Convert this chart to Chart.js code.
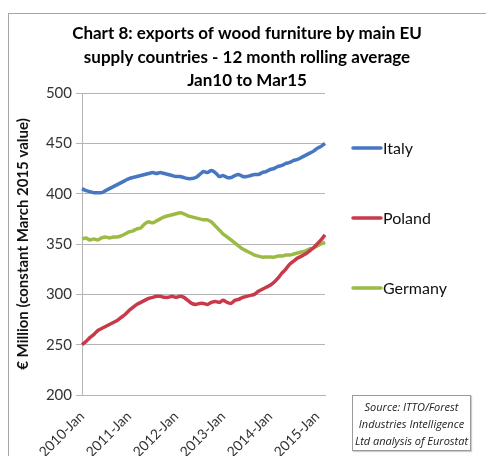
<!DOCTYPE html>
<html>
<head>
<meta charset="utf-8">
<script src="https://cdn.jsdelivr.net/npm/chart.js@4.4.1/dist/chart.umd.min.js"></script>
<style>
    body { margin: 0; background: #fff; }
    #wrap { position: relative; width: 486px; height: 456px; overflow: hidden; }
    #frame { position: absolute; left: 8px; top: 13px; width: 500px; height: 470px; border: 1px solid #a6a6a6; }
    #source {
        position: absolute; left: 352px; top: 395px; width: 119px; height: 56px;
        border: 1px solid #9a9a9a; box-shadow: 1px 1px 1px #ccc;
        font: italic 11px 'Open Sans', sans-serif; color: #222;
        text-align: center; line-height: 17px; padding-top: 2px; box-sizing: border-box;
    }
    canvas { position: absolute; left: 0; top: 0; }
</style>
</head>
<body>
<div id="wrap">
    <div id="frame"></div>
    <canvas id="chart" width="486" height="456"></canvas>
    <div id="source">Source: ITTO/Forest<br>Industries Intelligence<br>Ltd analysis of Eurostat</div>
</div>
<script>
// Chart 8 - wood furniture exports, 12 month rolling average, Jan10 to Mar15

const titleLines = ['Chart 8: exports of wood furniture by main EU', 'supply countries - 12 month rolling average', 'Jan10 to Mar15'];
const yAxisTitle = '€ Million (constant March 2015 value)';
const years = ['2010', '2011', '2012', '2013', '2014', '2015'];
const monthNames = ['Jan', 'Feb', 'Mar', 'Apr', 'May', 'Jun', 'Jul', 'Aug', 'Sep', 'Oct', 'Nov', 'Dec'];
const yTicks = [200, 250, 300, 350, 400, 450, 500];

const seriesNames = ['Italy', 'Poland', 'Germany'];
const seriesColors = ['#4677c0', '#c83a4a', '#9bbb45'];

const italy = [
    405, 403, 402, 401, 401, 401, 403, 405, 407, 409, 411, 413,
    415, 416, 417, 418, 419, 420, 421, 420, 421, 420, 419, 418,
    417, 417, 416, 415, 415, 416, 419, 422, 421, 423, 421, 417,
    418, 416, 416, 418, 419, 417, 417, 418, 419, 419, 421, 422,
    424, 425, 427, 428, 430, 431, 433, 434, 436, 438, 440, 442,
    445, 447, 450
];
const poland = [
    250, 253, 257, 260, 264, 266, 268, 270, 272, 274, 277, 280,
    284, 287, 290, 292, 294, 296, 297, 298, 298, 297, 297, 298,
    297, 298, 297, 294, 291, 290, 291, 291, 290, 292, 293, 292,
    294, 292, 291, 294, 295, 297, 298, 299, 300, 303, 305, 307,
    309, 312, 316, 321, 325, 330, 333, 336, 338, 340, 343, 346,
    350, 354, 359
];
const germany = [
    355, 356, 354, 355, 354, 356, 357, 356, 357, 357, 358, 360,
    362, 363, 365, 366, 370, 372, 371, 373, 375, 377, 378, 379,
    380, 381, 380, 378, 377, 376, 375, 374, 374, 372, 368, 364,
    360, 357, 354, 351, 348, 345, 343, 341, 339, 338, 337, 337,
    337, 337, 338, 338, 339, 339, 340, 341, 342, 343, 345, 346,
    348, 350, 352
];

// month labels Jan10..Mar15
const labels = [];
for (let i = 0; i < italy.length; i++) {
    labels.push(years[Math.floor(i / 12)] + '-' + monthNames[i % 12]);
}

// Title centred over the whole chart (not just the plot area)
const topTitle = {
    id: 'topTitle',
    afterDraw(chart) {
        const ctx = chart.ctx;
        ctx.save();
        ctx.font = 'bold 17px Lato, sans-serif';
        ctx.fillStyle = '#000';
        ctx.textAlign = 'center';
        ctx.textBaseline = 'middle';
        titleLines.forEach((line, i) => ctx.fillText(line, 247, 34 + i * 23.5));
        ctx.restore();
    }
};

// Right-hand legend, one entry per line, like the Excel original
const sideLegend = {
    id: 'sideLegend',
    afterDraw(chart) {
        const ctx = chart.ctx;
        ctx.save();
        ctx.font = '16px Lato, sans-serif';
        ctx.fillStyle = '#111';
        ctx.textBaseline = 'middle';
        seriesNames.forEach((name, i) => {
            const y = 148 + i * 70;
            ctx.strokeStyle = seriesColors[i];
            ctx.lineWidth = 3.5;
            ctx.lineCap = 'round';
            ctx.beginPath();
            ctx.moveTo(353, y);
            ctx.lineTo(381, y);
            ctx.stroke();
            ctx.fillText(name, 383, y + 1);
        });
        ctx.restore();
    }
};

const datasets = [italy, poland, germany].map((data, i) => ({
    label: seriesNames[i],
    data: data,
    borderColor: seriesColors[i],
    backgroundColor: seriesColors[i],
    borderWidth: 3.5,
    pointRadius: 0,
    tension: 0.2
}));

new Chart(document.getElementById('chart'), {
    type: 'line',
    data: { labels: labels, datasets: datasets },
    plugins: [topTitle, sideLegend],
    options: {
        responsive: false,
        animation: false,
        layout: { padding: { left: 14, right: 161, top: 93, bottom: 0 } },
        plugins: {
            legend: { display: false },
            tooltip: { enabled: false },
            title: { display: false }
        },
        scales: {
            y: {
                min: 200,
                max: 500,
                afterBuildTicks: (scale) => { scale.ticks = yTicks.map(v => ({ value: v })); },
                afterFit: (scale) => { scale.width = 68; },
                grid: { color: '#b4b4b4', tickLength: 6, tickColor: '#b4b4b4' },
                border: { color: '#b4b4b4' },
                ticks: { color: '#333', font: { family: 'Lato', size: 15 }, padding: 4 },
                title: {
                    display: true,
                    text: yAxisTitle,
                    color: '#111',
                    font: { family: 'Lato', size: 15, weight: 'bold' },
                    padding: { top: 0, bottom: 4 }
                }
            },
            x: {
                offset: false,
                afterFit: (scale) => { scale.height = 61; },
                grid: { display: false, drawTicks: true, tickLength: 6 },
                border: { color: '#b4b4b4' },
                ticks: {
                    autoSkip: false,
                    minRotation: 45,
                    maxRotation: 45,
                    padding: 7,
                    color: '#333',
                    font: { family: 'Lato', size: 14 },
                    callback: function (value, index) {
                        return index % 12 === 0 ? this.getLabelForValue(value) : null;
                    }
                }
            }
        }
    }
});
</script>
</body>
</html>
